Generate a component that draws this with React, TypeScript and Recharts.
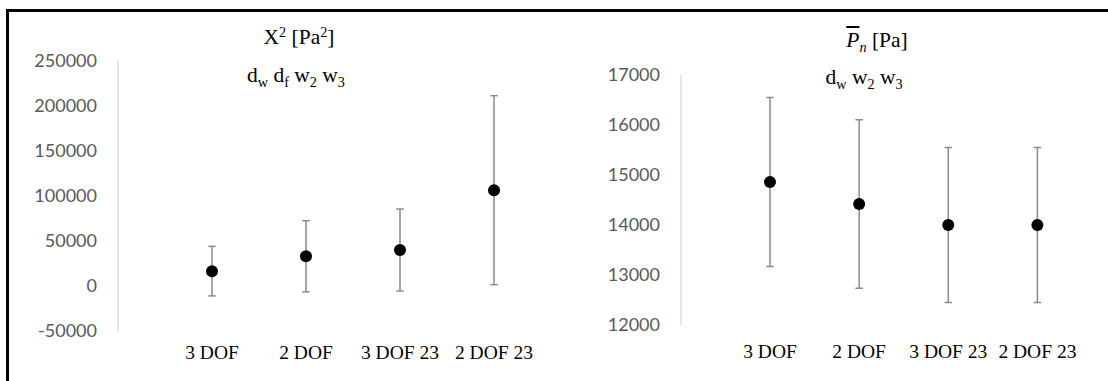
import React from 'react';
import { ComposedChart, Line, XAxis, YAxis, ErrorBar } from 'recharts';

const categories = ['3 DOF', '2 DOF', '3 DOF 23', '2 DOF 23'];

const chiMean = [16500, 33000, 40000, 106500];
const chiErr = [27500, 39500, 45500, 105000];
const chiTicks = [-50000, 0, 50000, 100000, 150000, 200000, 250000];

const pnMean = [14860, 14420, 14000, 14000];
const pnErr = [1690, 1685, 1550, 1550];
const pnTicks = [12000, 13000, 14000, 15000, 16000, 17000];

const chiRows = categories.map((c, i) => ({ cat: c, mean: chiMean[i], err: chiErr[i] }));
const pnRows = categories.map((c, i) => ({ cat: c, mean: pnMean[i], err: pnErr[i] }));

const SERIF = '"Liberation Serif", "Times New Roman", serif';
const SANS = 'Lato, "Open Sans", sans-serif';

const yTick = { fill: '#595959', fontSize: 18, fontFamily: SANS };
const xTick = { fill: '#000', fontSize: 19.5, fontFamily: SERIF };

const Sub = ({ children }: { children: React.ReactNode }) => (
  <span style={{ fontSize: '0.66em', position: 'relative', top: '0.38em' }}>{children}</span>
);
const Sup = ({ children }: { children: React.ReactNode }) => (
  <span style={{ fontSize: '0.66em', position: 'relative', top: '-0.5em' }}>{children}</span>
);

const Title = ({ cx, baseline, size, children }: { cx: number; baseline: number; size: number; children: React.ReactNode }) => (
  <div
    style={{
      position: 'absolute',
      left: cx - 150,
      width: 300,
      top: baseline - 0.8375 * size,
      fontSize: size,
      lineHeight: `${size}px`,
      fontFamily: SERIF,
      textAlign: 'center',
      color: '#000',
      whiteSpace: 'nowrap',
    }}
  >
    {children}
  </div>
);

function Panel({ rows, ticks, domain, width, left, yWidth, top, plotH, padL, padR, right, xMargin }: any) {
  return (
    <div style={{ position: 'absolute', left, top: 0 }}>
      <ComposedChart
        width={width}
        height={381}
        data={rows}
        margin={{ top, right, bottom: 381 - top - plotH - 60, left: 0 }}
      >
        <XAxis
          dataKey="cat"
          type="category"
          height={60}
          axisLine={false}
          tickLine={false}
          tickSize={0}
          tickMargin={xMargin}
          interval={0}
          padding={{ left: padL, right: padR }}
          tick={xTick}
        />
        <YAxis
          type="number"
          width={yWidth}
          domain={domain}
          ticks={ticks}
          interval={0}
          allowDataOverflow
          axisLine={{ stroke: '#d9d9d9', strokeWidth: 1.3 }}
          tickLine={false}
          tickSize={0}
          tickMargin={21}
          tick={yTick}
          tickFormatter={(v: number) => String(v)}
        />
        <Line
          dataKey="mean"
          stroke="none"
          isAnimationActive={false}
          dot={{ r: 6, fill: '#000', stroke: '#000', strokeWidth: 0 }}
          activeDot={false}
        >
          <ErrorBar dataKey="err" direction="y" width={3.7} stroke="#8a8a8a" strokeWidth={1.5} />
        </Line>
      </ComposedChart>
    </div>
  );
}

export default function App() {
  return (
    <div style={{ position: 'absolute', left: 0, top: 0, width: 1108, height: 381, overflow: 'hidden', background: '#fff' }}>
      <div
        style={{
          position: 'absolute',
          left: 6,
          top: 9,
          width: 1300,
          height: 600,
          borderLeft: '3px solid #000',
          borderTop: '3px solid #000',
        }}
      />
      <Panel
        rows={chiRows}
        ticks={chiTicks}
        domain={[-50000, 250000]}
        width={560}
        left={0}
        yWidth={118}
        top={61}
        plotH={270}
        padL={94}
        padR={47}
        right={19}
        xMargin={14}
      />
      <Panel
        rows={pnRows}
        ticks={pnTicks}
        domain={[12000, 17000]}
        width={548}
        left={560}
        yWidth={121}
        top={75}
        plotH={250}
        padL={89}
        padR={44.6}
        right={26}
        xMargin={19}
      />
      <Title cx={299} baseline={45} size={21.5}>
        X<Sup>2</Sup> [Pa<Sup>2</Sup>]
      </Title>
      <Title cx={296} baseline={83} size={21.5}>
        d<Sub>w</Sub> d<Sub>f</Sub> w<Sub>2</Sub> w<Sub>3</Sub>
      </Title>
      <Title cx={877} baseline={48} size={21.5}>
        <span style={{ fontStyle: 'italic', textDecoration: 'overline' }}>P</span>
        <span style={{ fontStyle: 'italic' }}>
          <Sub>n</Sub>
        </span>{' '}
        [Pa]
      </Title>
      <Title cx={864} baseline={85} size={21.5}>
        d<Sub>w</Sub> w<Sub>2</Sub> w<Sub>3</Sub>
      </Title>
    </div>
  );
}
